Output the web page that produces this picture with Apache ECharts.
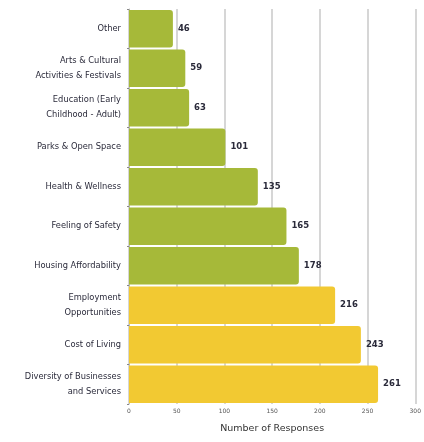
<!DOCTYPE html>
<html>
<head>
<meta charset="utf-8">
<script src="https://cdn.jsdelivr.net/npm/echarts@6/dist/echarts.min.js"></script>
<style>
  html, body { margin: 0; padding: 0; background: #fff; }
  #chart { width: 424px; height: 442px; }
</style>
</head>
<body>
<div id="chart"></div>
<script>
// top to bottom as drawn
var categories = [
  'Other',
  'Arts & Cultural\nActivities & Festivals',
  'Education (Early\nChildhood - Adult)',
  'Parks & Open Space',
  'Health & Wellness',
  'Feeling of Safety',
  'Housing Affordability',
  'Employment\nOpportunities',
  'Cost of Living',
  'Diversity of Businesses\nand Services'
];
var responses = [46, 59, 63, 101, 135, 165, 178, 216, 243, 261];
var highlighted = [false, false, false, false, false, false, false, true, true, true];
var xTicks = [0, 50, 100, 150, 200, 250, 300];

var green = '#a6b939';
var yellow = '#f2c932';
var textFont = 'DejaVu Sans';

var chart = echarts.init(document.getElementById('chart'));

var barData = responses.map(function (v, i) {
  return { value: v, itemStyle: { color: highlighted[i] ? yellow : green } };
});

var option = {
  animation: false,
  grid: { left: 129, right: 4, top: 9, bottom: 38, containLabel: false },
  xAxis: {
    type: 'value',
    min: xTicks[0],
    max: xTicks[xTicks.length - 1],
    interval: 50,
    name: 'Number of Responses',
    nameLocation: 'middle',
    nameGap: 20,
    nameTextStyle: { fontFamily: textFont, fontSize: 9.5, color: '#333' },
    axisLine: { show: false },
    axisTick: { show: false },
    axisLabel: { fontSize: 6, color: '#555', margin: 4, fontFamily: textFont },
    splitLine: { show: true, lineStyle: { color: '#c8c8c8', width: 1.5 } }
  },
  yAxis: {
    type: 'category',
    inverse: true,
    data: categories,
    axisLine: { show: true, lineStyle: { color: '#bbb', width: 1 } },
    axisTick: { show: true, length: 2, lineStyle: { color: '#888' } },
    axisLabel: { fontSize: 8.3, color: '#2a2a3a', margin: 8, lineHeight: 15, fontFamily: textFont }
  },
  series: [{
    type: 'bar',
    data: barData,
    barCategoryGap: '5%',
    itemStyle: { borderRadius: [0, 3, 3, 0] },
    label: {
      show: true,
      position: 'right',
      distance: 5,
      fontSize: 8.5,
      fontWeight: 'bold',
      color: '#2a2a3a',
      fontFamily: textFont
    }
  }]
};

chart.setOption(option);
</script>
</body>
</html>
